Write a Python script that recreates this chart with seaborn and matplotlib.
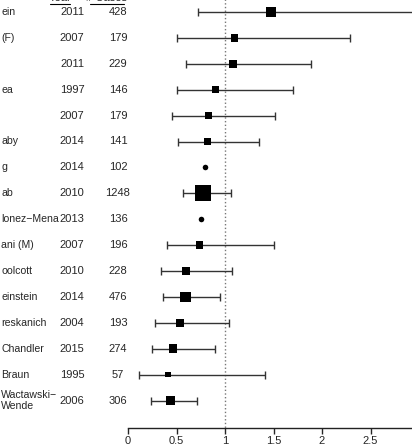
import numpy as np
import pandas as pd
import seaborn as sns
from matplotlib import pyplot as plt

# study rows, top to bottom (names are cut off at the left edge of the crop)
names = ["ein", "(F)", "", "ea", "", "aby", "g", "ab", "lonez\u2212Mena", "ani (M)",
         "oolcott", "einstein", "reskanich", "Chandler", "Braun", "Wactawski\u2212\nWende"]
years = [2011, 2007, 2011, 1997, 2007, 2014, 2014, 2010, 2013, 2007, 2010, 2014, 2004, 2015, 1995, 2006]
cases = [428, 179, 229, 146, 179, 141, 102, 1248, 136, 196, 228, 476, 193, 274, 57, 306]
estimate = [1.47, 1.10, 1.08, 0.90, 0.83, 0.82, 0.79, 0.77, 0.75, 0.735, 0.60, 0.595, 0.535, 0.465, 0.41, 0.44]
lower = [0.72, 0.505, 0.60, 0.50, 0.455, 0.515, np.nan, 0.565, np.nan, 0.405, 0.34, 0.36, 0.28, 0.245, 0.11, 0.24]
upper = [3.0, 2.29, 1.89, 1.70, 1.52, 1.35, np.nan, 1.06, np.nan, 1.50, 1.07, 0.95, 1.04, 0.895, 1.41, 0.71]
ticks = [0, 0.5, 1, 1.5, 2, 2.5]
tick_labels = ["0", "0.5", "1", "1.5", "2", "2.5"]

sns.set_style("white")
plt.rcParams['font.family'] = ['Liberation Sans', 'DejaVu Sans']

df = pd.DataFrame({"name": names, "year": years, "cases": cases,
                   "est": estimate, "lo": lower, "hi": upper})
df["pos"] = 12 + 25.9 * np.arange(len(df))
has_ci = df["lo"].notna()

fig = plt.figure(figsize=(4.12, 4.46), dpi=100)
ax = fig.add_axes([0, 0, 1, 1])
px0, ppu = 128, 97  # pixel of value 0, pixels per unit
ax.set_xlim(-px0 / ppu, (412 - px0) / ppu)
ax.set_ylim(446, 0)
axis_y = 428

def px(p):
    return (p - px0) / ppu

# reference line at 1
ax.vlines(1, -5, axis_y, colors="#777777", linestyles=":", linewidth=1.0, zorder=1)

# confidence intervals
ci = df[has_ci]
ax.errorbar(ci["est"], ci["pos"], xerr=[ci["est"] - ci["lo"], ci["hi"] - ci["est"]],
            fmt="none", ecolor="#333333", elinewidth=1.0, capsize=2.6, capthick=1.0, zorder=2)

# squares sized by number of cases, circles for studies without CI
sns.scatterplot(data=ci, x="est", y="pos", size="cases", sizes=(10, 132), size_norm=(0, 1248),
                marker="s", color="black", linewidth=0, legend=False, ax=ax, zorder=3)
sns.scatterplot(data=df[~has_ci], x="est", y="pos", s=16, marker="o", color="black",
                linewidth=0, legend=False, ax=ax, zorder=3)

# text columns
for _, r in df.iterrows():
    ax.text(px(1), r["pos"], r["name"], ha="left", va="center", fontsize=7.6, linespacing=1.05)
    ax.text(px(72), r["pos"], str(r["year"]), ha="center", va="center", fontsize=8)
    ax.text(px(118), r["pos"], str(r["cases"]), ha="center", va="center", fontsize=8)

head_y = df["pos"].iloc[0] - 14
ax.text(px(60), head_y, "Year", ha="center", va="center", fontsize=8)
ax.text(px(107), head_y, "# Cases", ha="center", va="center", fontsize=8)
ax.plot([px(50), px(70)], [head_y + 6, head_y + 6], color="black", lw=0.8)
ax.plot([px(90), px(124)], [head_y + 6, head_y + 6], color="black", lw=0.8)

# bottom axis
for s in ["top", "right", "left"]:
    ax.spines[s].set_visible(False)
ax.spines["bottom"].set_position(("data", axis_y))
ax.spines["bottom"].set_bounds(0, 3)
ax.spines["bottom"].set_color("#222222")
ax.spines["bottom"].set_linewidth(1.0)
ax.set_xticks(ticks)
ax.set_xticklabels(tick_labels, fontsize=8)
ax.tick_params(axis="x", direction="out", length=4, width=1.0, pad=2, bottom=True)
ax.set_yticks([])
ax.set_xlabel("")
ax.set_ylabel("")

fig.savefig("out.png", dpi=100)
